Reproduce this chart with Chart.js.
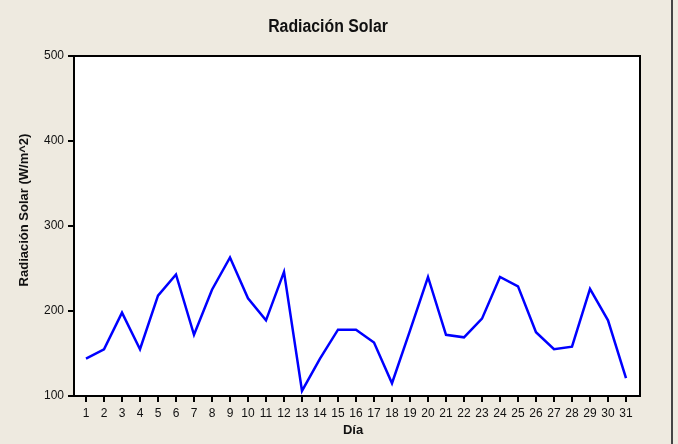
<!DOCTYPE html>
<html><head><meta charset="utf-8">
<script src="https://cdn.jsdelivr.net/npm/chart.js@4/dist/chart.umd.min.js"></script>
<style>html,body{margin:0;padding:0;background:#EEEAE0;}canvas{display:block}</style>
</head><body>
<canvas id="c" width="678" height="444"></canvas>
<script>
const days = [1,2,3,4,5,6,7,8,9,10,11,12,13,14,15,16,17,18,19,20,21,22,23,24,25,26,27,28,29,30,31];
const radiation = [144,155,198,155,218,243,172,225,263,215,189,246,106,144,178,178,163,115,177,240,172,169,191,240,229,175,155,158,226,189,121];
const yTicks = [100,200,300,400,500];
const chartTitle = 'Radiación Solar';
const xTitle = 'Día';
const yTitle = 'Radiación Solar (W/m^2)';

const deco = {
  id: 'deco',
  beforeDraw(chart) {
    const {ctx, chartArea: a} = chart;
    ctx.save();
    ctx.fillStyle = '#EEEAE0';
    ctx.fillRect(0, 0, chart.width, chart.height);
    ctx.fillStyle = '#FFFFFF';
    ctx.fillRect(a.left, a.top, a.right - a.left, a.bottom - a.top);
    ctx.restore();
  },
  afterDraw(chart) {
    const {ctx, chartArea: a} = chart;
    ctx.save();
    ctx.strokeStyle = '#000';
    ctx.lineWidth = 2;
    ctx.strokeRect(a.left, a.top, a.right - a.left, a.bottom - a.top);
    ctx.strokeStyle = '#444';
    ctx.lineWidth = 2;
    ctx.beginPath(); ctx.moveTo(672, 0); ctx.lineTo(672, chart.height); ctx.stroke();
    ctx.fillStyle = '#111';
    ctx.textAlign = 'center';
    ctx.textBaseline = 'middle';
    ctx.save();
    ctx.translate(328, 27);
    ctx.scale(0.88, 1);
    ctx.font = 'bold 18px "Liberation Sans", sans-serif';
    ctx.fillText(chartTitle, 0, 0);
    ctx.restore();
    ctx.font = 'bold 13px "Liberation Sans", sans-serif';
    ctx.fillText(xTitle, 353, 430);
    ctx.translate(24, 210);
    ctx.rotate(-Math.PI / 2);
    ctx.fillText(yTitle, 0, 0);
    ctx.restore();
  }
};

new Chart(document.getElementById('c'), {
  type: 'line',
  data: {
    datasets: [{
      data: days.map((d, i) => ({x: d, y: radiation[i]})),
      borderColor: '#0000FF',
      borderWidth: 2.5,
      pointRadius: 0,
      tension: 0,
      fill: false
    }]
  },
  options: {
    responsive: false,
    animation: false,
    layout: {padding: {left: 0, right: 38, top: 56, bottom: 0}},
    plugins: {legend: {display: false}, tooltip: {enabled: false}, title: {display: false}},
    scales: {
      x: {
        type: 'linear',
        min: 1 - 12/18,
        max: 31 + 14/18,
        afterBuildTicks: s => { s.ticks = days.map(v => ({value: v})); },
        afterFit: s => { s.height = 48; },
        grid: {drawOnChartArea: false, drawTicks: true, tickLength: 6, color: '#000', lineWidth: 2},
        border: {display: true, color: '#000', width: 2},
        ticks: {autoSkip: false, maxRotation: 0, padding: 4, color: '#111',
                font: {family: '"Liberation Sans", sans-serif', size: 12},
                callback: v => String(v)}
      },
      y: {
        type: 'linear',
        min: 100,
        max: 500,
        afterBuildTicks: s => { s.ticks = yTicks.map(v => ({value: v})); },
        afterFit: s => { s.width = 74; },
        grid: {drawOnChartArea: false, drawTicks: true, tickLength: 6, color: '#000', lineWidth: 2},
        border: {display: true, color: '#000', width: 2},
        ticks: {padding: 4, color: '#111',
                font: {family: '"Liberation Sans", sans-serif', size: 12},
                callback: v => String(v)}
      }
    }
  },
  plugins: [deco]
});
</script>
</body></html>
